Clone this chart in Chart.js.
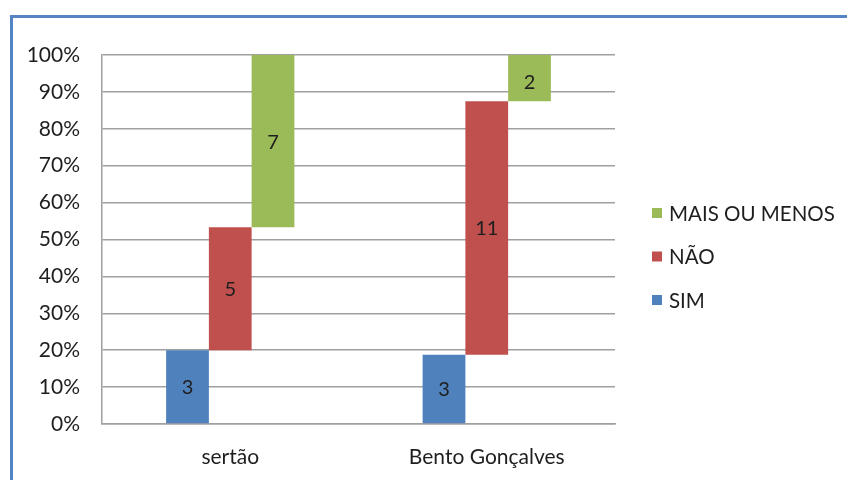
<!DOCTYPE html>
<html>
<head>
<meta charset="utf-8">
<script src="https://cdn.jsdelivr.net/npm/chart.js@4"></script>
<style>
  html, body { margin: 0; padding: 0; background: #fff; overflow: hidden; }
  #wrap { position: relative; width: 847px; height: 480px; }
  #frame {
    position: absolute; left: 10px; top: 15px; width: 900px; height: 500px;
    border-left: 3px solid #5584C4; border-top: 3px solid #5584C4;
    pointer-events: none;
  }
  canvas { position: absolute; left: 0; top: 0; }
</style>
</head>
<body>
<div id="wrap">
  <canvas id="c" width="847" height="480"></canvas>
  <div id="frame"></div>
</div>
<script>
// Answer counts per place
const categories = ['sertão', 'Bento Gonçalves'];
const simCounts = [3, 3];
const naoCounts = [5, 11];
const maisCounts = [7, 2];
const yTickLabels = ['0%', '10%', '20%', '30%', '40%', '50%', '60%', '70%', '80%', '90%', '100%'];

const seriesNames = ['SIM', 'NÃO', 'MAIS OU MENOS'];
const seriesColors = ['#4F81BD', '#C0504D', '#9BBB59'];
const seriesCounts = [simCounts, naoCounts, maisCounts];

// Each answer is drawn as a floating bar spanning its share of the place's total
const totals = categories.map((_, i) => seriesCounts.reduce((s, arr) => s + arr[i], 0));
const floating = seriesCounts.map((arr, k) => arr.map((v, i) => {
  let start = 0;
  for (let j = 0; j < k; j++) start += seriesCounts[j][i];
  return [start / totals[i] * 100, (start + v) / totals[i] * 100];
}));

const FONT = 'Lato, "Liberation Sans", sans-serif';
const TEXT = '#1e1e1e';

// Count labels inside each bar, kept a little clear of the bar's top edge
const barLabels = {
  id: 'barLabels',
  afterDatasetsDraw(chart) {
    const ctx = chart.ctx;
    ctx.save();
    ctx.font = '20px ' + FONT;
    ctx.fillStyle = TEXT;
    ctx.textAlign = 'center';
    ctx.textBaseline = 'middle';
    chart.data.datasets.forEach((ds, k) => {
      chart.getDatasetMeta(k).data.forEach((bar, i) => {
        const top = Math.min(bar.y, bar.base);
        const y = Math.max((bar.y + bar.base) / 2, top + 27);
        ctx.fillText(String(seriesCounts[k][i]), bar.x, y + 1);
      });
    });
    ctx.restore();
  }
};

// Legend on the right, listed top-down in reverse stacking order
const sideLegend = {
  id: 'sideLegend',
  afterDraw(chart) {
    const ctx = chart.ctx;
    const a = chart.chartArea;
    const x0 = a.right + 37;
    const rowGap = 43.5;
    const yMid = (a.top + a.bottom) / 2 + 17;
    ctx.save();
    ctx.font = '20.5px ' + FONT;
    ctx.textBaseline = 'middle';
    ctx.textAlign = 'left';
    const order = [2, 1, 0];
    order.forEach((k, r) => {
      const y = yMid + (r - 1) * rowGap;
      ctx.fillStyle = seriesColors[k];
      ctx.fillRect(x0, y - 5, 10, 10);
      ctx.fillStyle = TEXT;
      ctx.fillText(seriesNames[k], x0 + 17, y + 1);
    });
    ctx.restore();
  }
};

new Chart(document.getElementById('c'), {
  type: 'bar',
  data: {
    labels: categories,
    datasets: seriesNames.map((name, k) => ({
      label: name,
      data: floating[k],
      backgroundColor: seriesColors[k],
      borderWidth: 0,
      categoryPercentage: 0.5,
      barPercentage: 1.0
    }))
  },
  options: {
    responsive: false,
    animation: false,
    events: [],
    layout: { padding: { left: 0, right: 232, top: 55, bottom: 0 } },
    plugins: { legend: { display: false }, tooltip: { enabled: false } },
    scales: {
      x: {
        grid: { display: false, drawTicks: false },
        border: { display: true, color: '#A0A0A0', width: 1.5 },
        ticks: { color: TEXT, font: { family: FONT, size: 21 }, padding: 21, maxRotation: 0 },
        afterFit(scale) { scale.height = 56; }
      },
      y: {
        min: 0, max: 100,
        grid: { color: '#A0A0A0', lineWidth: 1.5, drawTicks: false },
        border: { display: true, color: '#A0A0A0', width: 1.5 },
        ticks: {
          stepSize: 10,
          color: TEXT,
          font: { family: FONT, size: 21 },
          padding: 22,
          callback: (v) => yTickLabels[Math.round(v / 10)]
        },
        afterFit(scale) { scale.width = 102; }
      }
    }
  },
  plugins: [barLabels, sideLegend]
});
</script>
</body>
</html>
